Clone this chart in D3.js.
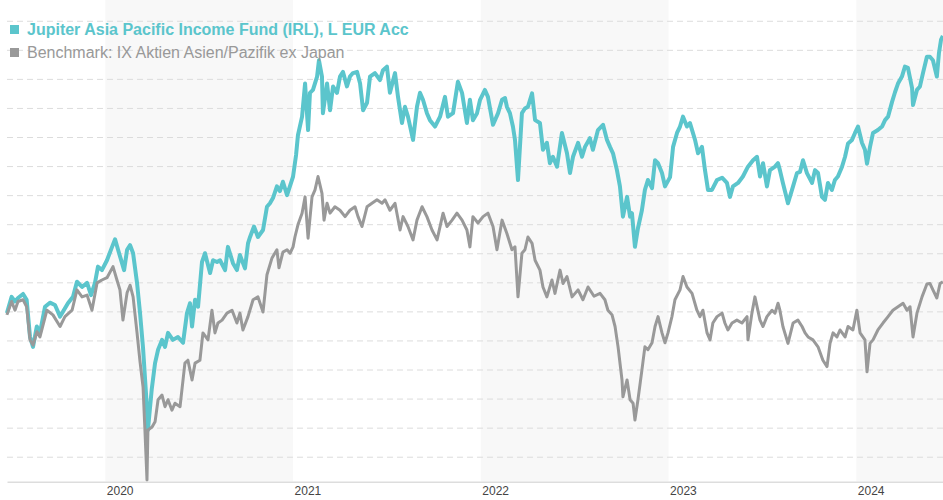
<!DOCTYPE html>
<html>
<head>
<meta charset="utf-8">
<script src="https://cdn.jsdelivr.net/npm/d3@7"></script>
<style>
  html, body { margin: 0; padding: 0; background: #fff; }
  svg { display: block; }
</style>
</head>
<body>
<div id="chart"></div>
<script>
// ---- data (decimal years, index values) ----
const seriesNames = ["Jupiter Asia Pacific Income Fund (IRL), L EUR Acc", "Benchmark: IX Aktien Asien/Pazifik ex Japan"];
const yearTicks = [2020, 2021, 2022, 2023, 2024];
const gridTicks = [75, 80, 85, 90, 95, 100, 105, 110, 115, 120, 125, 130, 135, 140, 145, 150];

const fundDates = [2019.476,2019.501,2019.519,2019.535,2019.562,2019.581,2019.599,2019.615,2019.635,2019.652,2019.679,2019.705,2019.732,2019.759,2019.775,2019.801,2019.828,2019.849,2019.876,2019.903,2019.924,2019.945,2019.961,2019.982,
2020.009,2020.036,2020.052,2020.068,2020.089,2020.100,2020.116,2020.132,2020.148,2020.169,2020.185,2020.201,2020.220,2020.227,2020.247,2020.265,2020.281,2020.302,2020.318,2020.334,2020.360,2020.387,2020.414,2020.435,2020.451,2020.462,2020.478,2020.494,2020.515,2020.531,2020.558,2020.574,2020.595,2020.611,2020.638,2020.653,2020.680,2020.701,2020.717,2020.744,2020.760,2020.771,2020.792,2020.813,2020.840,2020.861,2020.877,2020.893,2020.914,2020.930,2020.946,2020.968,2020.984,
2021.000,2021.016,2021.026,2021.048,2021.064,2021.080,2021.090,2021.106,2021.128,2021.138,2021.154,2021.159,2021.181,2021.197,2021.213,2021.234,2021.250,2021.266,2021.287,2021.303,2021.319,2021.341,2021.357,2021.373,2021.394,2021.410,2021.436,2021.463,2021.479,2021.500,2021.516,2021.543,2021.559,2021.580,2021.596,2021.612,2021.639,2021.660,2021.676,2021.692,2021.713,2021.729,2021.756,2021.783,2021.809,2021.825,2021.852,2021.878,2021.900,2021.926,2021.942,2021.958,2021.980,2021.996,
2022.022,2022.038,2022.065,2022.092,2022.113,2022.129,2022.139,2022.155,2022.171,2022.182,2022.198,2022.219,2022.235,2022.251,2022.273,2022.289,2022.315,2022.331,2022.352,2022.368,2022.384,2022.406,2022.432,2022.459,2022.475,2022.491,2022.518,2022.539,2022.555,2022.581,2022.597,2022.624,2022.651,2022.672,2022.688,2022.704,2022.725,2022.741,2022.757,2022.779,2022.795,2022.805,2022.821,2022.837,2022.858,2022.874,2022.890,2022.912,2022.928,2022.944,2022.965,2022.981,
2023.008,2023.024,2023.045,2023.061,2023.077,2023.098,2023.114,2023.141,2023.157,2023.178,2023.194,2023.210,2023.231,2023.258,2023.285,2023.311,2023.327,2023.343,2023.370,2023.396,2023.423,2023.450,2023.471,2023.487,2023.503,2023.524,2023.540,2023.567,2023.583,2023.593,2023.609,2023.636,2023.663,2023.684,2023.700,2023.716,2023.737,2023.764,2023.780,2023.796,2023.817,2023.833,2023.849,2023.870,2023.886,2023.902,2023.924,2023.940,2023.956,2023.977,2023.993,
2024.009,2024.030,2024.046,2024.057,2024.073,2024.089,2024.115,2024.137,2024.153,2024.169,2024.190,2024.206,2024.222,2024.243,2024.259,2024.275,2024.297,2024.302,2024.323,2024.339,2024.355,2024.376,2024.392,2024.408,2024.429,2024.440,2024.451,2024.461];

const fundValues = [99.7,102.5,101.7,102.3,103.0,102.0,95.6,93.9,97.4,96.3,100.8,101.5,101.1,99.1,100.0,101.4,102.5,105.1,104.2,104.9,102.8,104.9,107.7,107.1,
108.8,111.1,112.4,110.6,108.3,107.1,110.6,111.4,110.0,104.9,99.7,93.7,84.2,79.6,86.5,91.1,93.4,95.1,93.9,96.3,95.1,95.6,94.6,99.7,101.4,97.4,102.0,100.8,108.5,110.0,106.6,108.8,108.5,108.8,107.1,111.1,108.3,107.1,109.7,107.4,111.7,112.8,114.6,112.8,114.0,118.0,118.6,119.5,121.5,120.7,122.3,120.0,121.6,
123.2,126.9,130.3,133.5,139.2,131.2,137.6,138.1,140.4,143.2,140.4,134.1,139.2,134.6,138.7,137.6,140.4,141.2,138.7,140.4,141.0,141.2,139.2,134.6,135.9,140.4,141.0,139.8,141.5,142.1,137.6,141.0,136.9,132.4,135.2,133.5,129.5,135.2,137.6,136.4,134.1,132.9,131.8,133.5,136.9,133.5,134.1,139.5,137.6,132.4,136.4,132.9,134.1,136.4,
138.1,136.9,132.1,134.1,136.4,136.7,135.2,134.1,131.8,129.5,122.6,134.1,134.9,135.2,137.5,132.9,132.4,127.8,129.0,125.5,126.6,124.9,130.7,127.2,123.8,126.6,129.0,126.6,128.3,129.8,127.8,131.2,132.1,129.5,128.3,127.2,124.3,121.5,116.3,119.7,116.3,116.9,111.1,114.3,117.4,120.9,122.6,121.2,126.0,125.5,123.8,121.5,
123.1,128.3,130.7,131.8,133.5,131.8,132.4,129.5,127.2,128.3,124.3,120.9,120.9,122.6,123.0,122.1,119.7,121.5,122.1,123.2,124.9,126.0,126.6,123.2,125.5,121.5,124.3,124.9,125.5,124.3,122.1,118.6,121.5,123.8,124.0,126.0,123.8,122.1,124.3,123.8,119.7,119.2,122.1,120.9,122.6,123.2,124.9,126.6,128.9,129.5,130.7,
131.8,129.0,127.8,125.4,128.3,130.7,131.2,131.8,132.9,133.5,136.0,137.7,139.2,140.4,142.1,141.9,138.4,135.5,138.1,138.7,141.0,143.8,143.8,143.2,140.4,144.4,146.7,147.4];

const benchDates = [2019.476,2019.501,2019.519,2019.535,2019.562,2019.581,2019.599,2019.615,2019.636,2019.652,2019.689,2019.721,2019.759,2019.785,2019.823,2019.849,2019.876,2019.903,2019.929,2019.956,2019.982,
2020.009,2020.041,2020.062,2020.078,2020.094,2020.116,2020.132,2020.148,2020.169,2020.185,2020.201,2020.211,2020.222,2020.227,2020.249,2020.265,2020.281,2020.302,2020.318,2020.334,2020.355,2020.371,2020.398,2020.424,2020.440,2020.462,2020.478,2020.504,2020.520,2020.547,2020.568,2020.584,2020.600,2020.622,2020.648,2020.675,2020.701,2020.717,2020.733,2020.760,2020.787,2020.813,2020.840,2020.861,2020.888,2020.914,2020.925,2020.946,2020.968,2020.984,
2021.000,2021.010,2021.026,2021.048,2021.064,2021.080,2021.101,2021.117,2021.133,2021.154,2021.165,2021.181,2021.197,2021.223,2021.250,2021.277,2021.303,2021.330,2021.346,2021.367,2021.394,2021.420,2021.447,2021.474,2021.490,2021.516,2021.543,2021.570,2021.586,2021.612,2021.639,2021.660,2021.687,2021.713,2021.740,2021.767,2021.799,2021.820,2021.847,2021.873,2021.900,2021.926,2021.942,2021.958,2021.985,
2022.012,2022.038,2022.065,2022.086,2022.113,2022.139,2022.166,2022.182,2022.198,2022.219,2022.235,2022.251,2022.273,2022.289,2022.315,2022.331,2022.352,2022.379,2022.395,2022.422,2022.438,2022.459,2022.486,2022.518,2022.544,2022.571,2022.603,2022.635,2022.661,2022.677,2022.699,2022.715,2022.731,2022.752,2022.757,2022.779,2022.795,2022.811,2022.821,2022.837,2022.858,2022.874,2022.890,2022.912,2022.928,2022.944,2022.965,2022.981,2022.997,
2023.018,2023.034,2023.061,2023.077,2023.098,2023.125,2023.151,2023.167,2023.183,2023.205,2023.221,2023.236,2023.258,2023.285,2023.300,2023.316,2023.338,2023.364,2023.391,2023.418,2023.423,2023.444,2023.460,2023.487,2023.503,2023.524,2023.551,2023.567,2023.583,2023.593,2023.609,2023.636,2023.663,2023.689,2023.711,2023.727,2023.743,2023.769,2023.796,2023.822,2023.844,2023.860,2023.876,2023.897,2023.913,2023.940,2023.956,2023.982,
2024.003,2024.020,2024.046,2024.057,2024.073,2024.089,2024.115,2024.142,2024.169,2024.195,2024.222,2024.249,2024.270,2024.286,2024.302,2024.323,2024.350,2024.376,2024.392,2024.408,2024.429,2024.446,2024.461];

const benchValues = [99.4,101.7,100.2,101.7,102.0,100.8,95.1,94.2,96.5,95.6,100.2,99.4,97.4,99.1,100.2,103.7,102.5,102.8,100.2,104.9,105.4,
105.8,107.7,105.4,103.7,98.5,103.2,104.5,102.5,96.3,91.3,87.0,79.6,71.0,79.6,80.1,81.0,84.8,85.6,83.6,84.8,83.0,84.2,83.6,91.1,91.6,88.2,91.1,91.6,96.3,95.1,100.2,96.3,98.0,98.5,99.7,100.2,98.0,99.7,96.8,99.1,102.0,102.5,99.9,106.3,109.2,110.6,107.5,110.2,110.6,110.0,
111.1,112.8,114.9,116.9,119.7,112.6,119.7,120.9,123.2,120.3,115.7,118.6,116.9,118.0,117.4,116.3,117.4,118.0,116.3,114.6,118.0,118.6,119.2,118.6,119.2,117.4,118.6,114.0,116.3,114.6,112.3,115.7,118.0,116.3,114.0,112.3,116.9,114.6,115.7,116.9,115.7,114.0,111.1,116.3,115.2,
116.3,116.9,114.6,110.6,115.7,113.4,110.6,111.1,102.5,110.0,110.6,112.8,111.7,108.8,107.1,104.2,102.5,105.4,103.1,107.1,104.8,106.0,102.5,103.7,102.0,104.2,102.6,103.1,102.0,100.2,99.4,97.4,93.9,88.2,85.3,88.2,84.8,84.2,81.3,84.8,89.9,93.9,93.4,94.6,97.4,99.1,96.3,94.6,96.3,
99.1,102.0,103.7,106.0,104.2,103.1,100.2,99.1,100.2,96.3,95.1,98.0,99.1,99.7,98.0,96.8,98.0,98.5,98.0,99.1,95.1,99.7,102.5,98.5,97.4,99.1,100.2,99.7,101.4,100.2,97.4,94.5,98.0,98.5,97.4,96.3,95.6,95.1,93.9,91.6,90.5,94.5,96.3,95.6,96.8,95.6,97.4,96.8,
100.2,96.3,95.1,89.6,94.5,95.1,96.8,98.0,99.1,100.2,100.8,101.4,100.2,100.8,95.6,99.7,102.5,104.7,104.8,103.7,102.3,104.8,105.1];

// ---- layout ----
const W = 943, H = 500;
const colors = ["#5bc5cc", "#999999"];

const svg = d3.select("#chart").append("svg")
  .attr("width", W).attr("height", H)
  .style("font-family", "'Liberation Sans', Arial, sans-serif");

const x = d3.scaleLinear().domain([2019.4764, 2024.4617]).range([7, 943]);
const y = d3.scaleLinear().domain([70.7, 153.57]).range([481.7, 0]);

// alternating year bands
const bandYears = yearTicks.filter((d, i) => i % 2 === 0);
svg.append("g").selectAll("rect").data(bandYears).join("rect")
  .attr("x", d => x(d))
  .attr("y", 0)
  .attr("width", d => Math.min(x(d + 1), W) - x(d))
  .attr("height", 481.7)
  .attr("fill", "#f8f8f8");

// dashed gridlines
const yAxis = d3.axisLeft(y).tickValues(gridTicks).tickSize(-(943 - 7)).tickFormat("");
const gy = svg.append("g").attr("transform", "translate(7,0)").call(yAxis);
gy.select(".domain").remove();
gy.selectAll(".tick line").attr("stroke", "#dcdcdc").attr("stroke-width", 1).attr("stroke-dasharray", "6,4");

// x axis
const xAxis = d3.axisBottom(x).tickValues(yearTicks).tickSize(0).tickFormat(d3.format("d"));
const gx = svg.append("g").attr("transform", "translate(0,481.7)").call(xAxis);
gx.select(".domain").attr("stroke", "#dddddd").attr("stroke-width", 1.5);
gx.selectAll(".tick text")
  .attr("text-anchor", "start")
  .attr("x", 1)
  .attr("dy", 0)
  .attr("y", 13)
  .attr("fill", "#444")
  .style("font-size", "12px");

// lines
const line = d3.line().x(d => x(d[0])).y(d => y(d[1]));
const fundData = fundDates.map((d, i) => [d, fundValues[i]]);
const benchData = benchDates.map((d, i) => [d, benchValues[i]]);

svg.append("defs").append("clipPath").attr("id", "plot")
  .append("rect").attr("x", 0).attr("y", 0).attr("width", W).attr("height", 481.7);

svg.append("path").datum(fundData)
  .attr("clip-path", "url(#plot)")
  .attr("d", line).attr("fill", "none")
  .attr("stroke", colors[0]).attr("stroke-width", 4)
  .attr("stroke-linejoin", "round");

svg.append("path").datum(benchData)
  .attr("clip-path", "url(#plot)")
  .attr("d", line).attr("fill", "none")
  .attr("stroke", colors[1]).attr("stroke-width", 3)
  .attr("stroke-linejoin", "round");

// legend
const legend = svg.append("g").selectAll("g").data(seriesNames).join("g")
  .attr("transform", (d, i) => `translate(10,${35 + i * 23})`);
legend.append("rect").attr("x", 0).attr("y", -10).attr("width", 9).attr("height", 9)
  .attr("fill", (d, i) => colors[i]);
legend.append("text").attr("x", 17).attr("y", 0)
  .attr("fill", (d, i) => colors[i])
  .style("font-size", "16px")
  .style("font-weight", (d, i) => i === 0 ? "bold" : "normal")
  .text(d => d);
</script>
</body>
</html>
